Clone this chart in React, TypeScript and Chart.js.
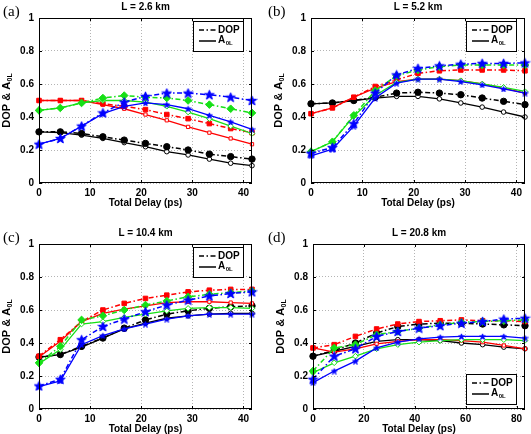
import React, { useEffect, useRef } from "react";
import { Chart, registerables } from "chart.js";
Chart.register(...registerables);

// ---------- data ----------
const delayShort = [0, 4.17, 8.33, 12.5, 16.67, 20.83, 25, 29.17, 33.33, 37.5, 41.67];
const delayLong = [0, 8.33, 16.67, 25, 33.33, 41.67, 50, 58.33, 66.67, 75, 83.33];
const yTickValues = [0, 0.2, 0.4, 0.6, 0.8, 1];
const xTicksShort = [0, 10, 20, 30, 40];
const xTicksLong = [0, 20, 40, 60, 80];
const panelTitles = ["L = 2.6 km", "L = 5.2 km", "L = 10.4 km", "L = 20.8 km"];
const panelLabels = ["(a)", "(b)", "(c)", "(d)"];
const xAxisTitle = "Total Delay (ps)";
const legendLabels = ["DOP", "A"];
const legendSub = "0L";

// panel (a) L = 2.6 km
const aBlackDop = [0.31, 0.31, 0.3, 0.28, 0.26, 0.24, 0.22, 0.2, 0.175, 0.16, 0.145];
const aBlackA0L = [0.31, 0.305, 0.29, 0.27, 0.245, 0.22, 0.19, 0.17, 0.145, 0.12, 0.105];
const aRedDop = [0.5, 0.5, 0.5, 0.48, 0.465, 0.445, 0.415, 0.39, 0.36, 0.33, 0.305];
const aRedA0L = [0.5, 0.5, 0.5, 0.475, 0.45, 0.415, 0.38, 0.34, 0.305, 0.27, 0.235];
const aGreenDop = [0.44, 0.455, 0.485, 0.515, 0.53, 0.52, 0.515, 0.5, 0.475, 0.45, 0.425];
const aGreenA0L = [0.44, 0.455, 0.485, 0.5, 0.5, 0.49, 0.465, 0.43, 0.39, 0.345, 0.3];
const aBlueDop = [0.235, 0.27, 0.345, 0.425, 0.49, 0.525, 0.545, 0.545, 0.535, 0.52, 0.5];
const aBlueA0L = [0.235, 0.27, 0.345, 0.42, 0.465, 0.485, 0.475, 0.45, 0.41, 0.37, 0.325];

// panel (b) L = 5.2 km
const bBlackDop = [0.48, 0.485, 0.5, 0.52, 0.545, 0.55, 0.545, 0.535, 0.515, 0.495, 0.475];
const bBlackA0L = [0.48, 0.485, 0.5, 0.515, 0.525, 0.525, 0.51, 0.485, 0.46, 0.43, 0.4];
const bRedDop = [0.42, 0.455, 0.52, 0.585, 0.625, 0.665, 0.68, 0.685, 0.685, 0.685, 0.68];
const bRedA0L = [0.42, 0.455, 0.52, 0.575, 0.615, 0.63, 0.63, 0.62, 0.6, 0.575, 0.545];
const bGreenDop = [0.19, 0.25, 0.41, 0.56, 0.65, 0.685, 0.705, 0.715, 0.715, 0.715, 0.715];
const bGreenA0L = [0.19, 0.25, 0.405, 0.53, 0.61, 0.63, 0.63, 0.62, 0.6, 0.58, 0.555];
const bBlueDop = [0.18, 0.215, 0.36, 0.545, 0.655, 0.695, 0.71, 0.72, 0.725, 0.725, 0.728];
const bBlueA0L = [0.165, 0.205, 0.345, 0.515, 0.605, 0.63, 0.63, 0.615, 0.595, 0.57, 0.545];

// panel (c) L = 10.4 km
const cBlackDop = [0.315, 0.33, 0.38, 0.43, 0.49, 0.54, 0.575, 0.595, 0.61, 0.62, 0.625];
const cBlackA0L = [0.315, 0.33, 0.375, 0.43, 0.485, 0.52, 0.55, 0.565, 0.575, 0.58, 0.58];
const cRedDop = [0.32, 0.42, 0.53, 0.6, 0.64, 0.67, 0.69, 0.71, 0.72, 0.725, 0.725];
const cRedA0L = [0.315, 0.41, 0.53, 0.58, 0.605, 0.625, 0.645, 0.65, 0.65, 0.645, 0.64];
const cGreenDop = [0.28, 0.38, 0.54, 0.565, 0.6, 0.63, 0.655, 0.68, 0.695, 0.705, 0.715];
const cGreenA0L = [0.275, 0.36, 0.515, 0.53, 0.555, 0.575, 0.595, 0.61, 0.615, 0.615, 0.61];
const cBlueDop = [0.14, 0.18, 0.42, 0.5, 0.545, 0.59, 0.63, 0.66, 0.685, 0.7, 0.71];
const cBlueA0L = [0.135, 0.17, 0.39, 0.445, 0.485, 0.515, 0.545, 0.565, 0.575, 0.575, 0.575];

// panel (d) L = 20.8 km
const dBlackDop = [0.32, 0.355, 0.4, 0.46, 0.5, 0.515, 0.52, 0.52, 0.515, 0.51, 0.505];
const dBlackA0L = [0.32, 0.35, 0.38, 0.41, 0.42, 0.42, 0.415, 0.4, 0.39, 0.375, 0.365];
const dRedDop = [0.37, 0.39, 0.44, 0.485, 0.515, 0.53, 0.535, 0.54, 0.535, 0.535, 0.53];
const dRedA0L = [0.37, 0.345, 0.365, 0.395, 0.41, 0.42, 0.42, 0.415, 0.405, 0.385, 0.365];
const dGreenDop = [0.23, 0.37, 0.39, 0.45, 0.47, 0.49, 0.51, 0.525, 0.53, 0.535, 0.54];
const dGreenA0L = [0.22, 0.28, 0.32, 0.365, 0.39, 0.405, 0.415, 0.42, 0.42, 0.42, 0.415];
const dBlueDop = [0.18, 0.32, 0.365, 0.44, 0.47, 0.49, 0.505, 0.52, 0.53, 0.545, 0.55];
const dBlueA0L = [0.16, 0.23, 0.29, 0.37, 0.405, 0.425, 0.435, 0.44, 0.44, 0.44, 0.43];

// ---------- styles ----------
const BLACK = "#000000";
const RED = "#ff0000";
const GREEN = "#16e016";
const BLUE = "#0000ff";
const SANS = "'Liberation Sans', Arial, sans-serif";

type Series = { color: string; marker: string; dop: number[]; a0l: number[] };

const panels = [
  {
    x: delayShort, xMax: 41.67, xTicks: xTicksShort, legendBottom: false,
    pos: { left: 0, top: 0, w: 265, h: 217, padTop: 18, padRight: 13, yW: 39, xH: 34 },
    series: [
      { color: BLACK, marker: "circle", dop: aBlackDop, a0l: aBlackA0L },
      { color: RED, marker: "rect", dop: aRedDop, a0l: aRedA0L },
      { color: GREEN, marker: "rectRot", dop: aGreenDop, a0l: aGreenA0L },
      { color: BLUE, marker: "star", dop: aBlueDop, a0l: aBlueA0L },
    ] as Series[],
  },
  {
    x: delayShort, xMax: 41.67, xTicks: xTicksShort, legendBottom: false,
    pos: { left: 265, top: 0, w: 266, h: 217, padTop: 18, padRight: 6, yW: 46, xH: 34 },
    series: [
      { color: BLACK, marker: "circle", dop: bBlackDop, a0l: bBlackA0L },
      { color: RED, marker: "rect", dop: bRedDop, a0l: bRedA0L },
      { color: GREEN, marker: "rectRot", dop: bGreenDop, a0l: bGreenA0L },
      { color: BLUE, marker: "star", dop: bBlueDop, a0l: bBlueA0L },
    ] as Series[],
  },
  {
    x: delayShort, xMax: 41.67, xTicks: xTicksShort, legendBottom: false,
    pos: { left: 0, top: 217, w: 265, h: 217, padTop: 27, padRight: 13, yW: 39, xH: 25 },
    series: [
      { color: BLACK, marker: "circle", dop: cBlackDop, a0l: cBlackA0L },
      { color: RED, marker: "rect", dop: cRedDop, a0l: cRedA0L },
      { color: GREEN, marker: "rectRot", dop: cGreenDop, a0l: cGreenA0L },
      { color: BLUE, marker: "star", dop: cBlueDop, a0l: cBlueA0L },
    ] as Series[],
  },
  {
    x: delayLong, xMax: 83.33, xTicks: xTicksLong, legendBottom: true,
    pos: { left: 265, top: 217, w: 266, h: 217, padTop: 27, padRight: 6, yW: 48, xH: 25 },
    series: [
      { color: BLACK, marker: "circle", dop: dBlackDop, a0l: dBlackA0L },
      { color: RED, marker: "rect", dop: dRedDop, a0l: dRedA0L },
      { color: GREEN, marker: "rectRot", dop: dGreenDop, a0l: dGreenA0L },
      { color: BLUE, marker: "star", dop: dBlueDop, a0l: dBlueA0L },
    ] as Series[],
  },
];

function makeStar(size: number, color: string, filled: boolean) {
  const c = document.createElement("canvas");
  c.width = size;
  c.height = size;
  const g = c.getContext("2d")!;
  const cx = size / 2, cy = size / 2 + 0.4;
  const R = size / 2 - 0.5, r = R * 0.42;
  g.beginPath();
  for (let k = 0; k < 10; k++) {
    const ang = -Math.PI / 2 + (k * Math.PI) / 5;
    const rad = k % 2 === 0 ? R : r;
    const px = cx + rad * Math.cos(ang), py = cy + rad * Math.sin(ang);
    if (k === 0) g.moveTo(px, py); else g.lineTo(px, py);
  }
  g.closePath();
  if (filled) { g.fillStyle = color; g.fill(); }
  g.strokeStyle = color;
  g.lineWidth = 1;
  g.stroke();
  return c;
}

function drawSubText(ctx: CanvasRenderingContext2D, main: string, sub: string, x: number, y: number, size: number) {
  ctx.font = `bold ${size}px ${SANS}`;
  ctx.textBaseline = "middle";
  ctx.textAlign = "left";
  ctx.fillText(main, x, y);
  const w = ctx.measureText(main).width;
  ctx.font = `bold ${Math.round(size * 0.62)}px ${SANS}`;
  ctx.fillText(sub, x + w + 0.5, y + size * 0.32);
}

function subTextWidth(ctx: CanvasRenderingContext2D, main: string, sub: string, size: number) {
  ctx.font = `bold ${size}px ${SANS}`;
  const w1 = ctx.measureText(main).width;
  ctx.font = `bold ${Math.round(size * 0.62)}px ${SANS}`;
  return w1 + 0.5 + ctx.measureText(sub).width;
}

function Panel({ idx }: { idx: number }) {
  const ref = useRef<HTMLCanvasElement>(null);
  const p = panels[idx];
  useEffect(() => {
    const datasets: any[] = [];
    p.series.forEach((s) => {
      const bigStar = makeStar(11, s.color, true);
      const smallStar = makeStar(7, s.color, true);
      datasets.push({
        data: p.x.map((xv, i) => ({ x: xv, y: s.a0l[i] })),
        borderColor: s.color,
        backgroundColor: "#ffffff",
        borderWidth: 1.3,
        pointStyle: s.marker === "star" ? smallStar : s.marker,
        pointRadius: s.marker === "rectRot" ? 2.8 : 2.3,
        pointBorderWidth: 1,
        pointBorderColor: s.color,
        pointBackgroundColor: "#ffffff",
        clip: false,
      });
      datasets.push({
        data: p.x.map((xv, i) => ({ x: xv, y: s.dop[i] })),
        borderColor: s.color,
        backgroundColor: s.color,
        borderWidth: 1.5,
        borderDash: [5, 2.5, 1.5, 2.5],
        pointStyle: s.marker === "star" ? bigStar : s.marker,
        pointRadius: s.marker === "rectRot" ? 3.8 : 3.2,
        pointBorderWidth: 1,
        pointBorderColor: s.color,
        pointBackgroundColor: s.color,
        clip: false,
      });
    });
    datasets.reverse();

    const deco = {
      id: "deco",
      afterDraw(chart: any) {
        const { ctx, chartArea: ca } = chart;
        const xs = chart.scales.x, ys = chart.scales.y;
        ctx.save();
        // frame
        ctx.strokeStyle = "#000";
        ctx.lineWidth = 1;
        ctx.setLineDash([]);
        ctx.strokeRect(ca.left + 0.5, ca.top + 0.5, ca.right - ca.left - 1, ca.bottom - ca.top - 1);
        // inner ticks
        ctx.beginPath();
        p.xTicks.forEach((v: number) => {
          const px = Math.round(xs.getPixelForValue(v)) + 0.5;
          ctx.moveTo(px, ca.bottom); ctx.lineTo(px, ca.bottom - 3);
          ctx.moveTo(px, ca.top); ctx.lineTo(px, ca.top + 3);
        });
        yTickValues.forEach((v) => {
          const py = Math.round(ys.getPixelForValue(v)) + 0.5;
          ctx.moveTo(ca.left, py); ctx.lineTo(ca.left + 3, py);
          ctx.moveTo(ca.right, py); ctx.lineTo(ca.right - 3, py);
        });
        ctx.stroke();
        // title
        ctx.fillStyle = "#000";
        ctx.font = `bold 10px ${SANS}`;
        ctx.textAlign = "center";
        ctx.textBaseline = "middle";
        ctx.fillText(panelTitles[idx], (ca.left + ca.right) / 2, ca.top - 11);
        // x axis title
        ctx.fillText(xAxisTitle, (ca.left + ca.right) / 2, ca.bottom + 20);
        // y axis title (rotated)
        ctx.save();
        ctx.translate(ca.left - 31, (ca.top + ca.bottom) / 2);
        ctx.rotate(-Math.PI / 2);
        const tw = subTextWidth(ctx, "DOP & A", legendSub, 11);
        drawSubText(ctx, "DOP & A", legendSub, -tw / 2, -1, 11);
        ctx.restore();
        // panel label
        ctx.font = `15px 'Liberation Serif', 'DejaVu Serif', serif`;
        ctx.textAlign = "left";
        ctx.textBaseline = "alphabetic";
        ctx.fillText(panelLabels[idx], 3, ca.top - 2);
        // legend
        const bw = 50, bh = 30;
        const bx = ca.right - 9 - bw;
        const by = p.legendBottom ? ca.bottom - 5 - bh : ca.top + 3;
        ctx.fillStyle = "#fff";
        ctx.fillRect(bx, by, bw, bh);
        ctx.strokeStyle = "#000";
        ctx.lineWidth = 1;
        ctx.strokeRect(bx + 0.5, by + 0.5, bw, bh);
        ctx.lineWidth = 1.5;
        ctx.setLineDash([5, 2.5, 1.5, 2.5]);
        ctx.beginPath();
        ctx.moveTo(bx + 6, by + 9); ctx.lineTo(bx + 23, by + 9);
        ctx.stroke();
        ctx.setLineDash([]);
        ctx.beginPath();
        ctx.moveTo(bx + 6, by + 20); ctx.lineTo(bx + 23, by + 20);
        ctx.stroke();
        ctx.fillStyle = "#000";
        ctx.font = `bold 10px ${SANS}`;
        ctx.textBaseline = "middle";
        ctx.fillText(legendLabels[0], bx + 25, by + 9);
        drawSubText(ctx, legendLabels[1], legendSub, bx + 25, by + 19, 10);
        ctx.restore();
      },
    };

    const chart = new Chart(ref.current!, {
      type: "line",
      data: { datasets },
      options: {
        animation: false,
        responsive: false,
        devicePixelRatio: 1,
        layout: { padding: { top: p.pos.padTop, right: p.pos.padRight, left: 0, bottom: 0 } },
        plugins: { legend: { display: false }, title: { display: false }, tooltip: { enabled: false } },
        scales: {
          x: {
            type: "linear",
            min: 0,
            max: p.xMax,
            afterBuildTicks: (s: any) => { s.ticks = p.xTicks.map((v: number) => ({ value: v })); },
            afterFit: (s: any) => { s.height = p.pos.xH; },
            grid: { color: "#b4b4b4", lineWidth: 1, drawTicks: false },
            border: { display: false, dash: [1, 2] },
            ticks: { color: "#000", font: { family: SANS, size: 10, weight: "bold" }, padding: 4, maxRotation: 0 },
          },
          y: {
            type: "linear",
            min: 0,
            max: 1,
            afterBuildTicks: (s: any) => { s.ticks = yTickValues.map((v) => ({ value: v })); },
            afterFit: (s: any) => { s.width = p.pos.yW; },
            grid: { color: "#b4b4b4", lineWidth: 1, drawTicks: false },
            border: { display: false, dash: [1, 2] },
            ticks: {
              color: "#000",
              font: { family: SANS, size: 10, weight: "bold" },
              padding: 5,
              callback: (v: any) => String(Math.round(Number(v) * 10) / 10),
            },
          },
        },
      },
      plugins: [deco],
    } as any);
    return () => chart.destroy();
  }, [idx]);
  return (
    <canvas
      ref={ref}
      width={p.pos.w}
      height={p.pos.h}
      style={{ position: "absolute", left: p.pos.left, top: p.pos.top, width: p.pos.w, height: p.pos.h }}
    />
  );
}

export default function App() {
  return (
    <div style={{ position: "fixed", left: 0, top: 0, width: 531, height: 434, background: "#fff" }}>
      {panels.map((_, i) => (
        <Panel key={i} idx={i} />
      ))}
    </div>
  );
}
